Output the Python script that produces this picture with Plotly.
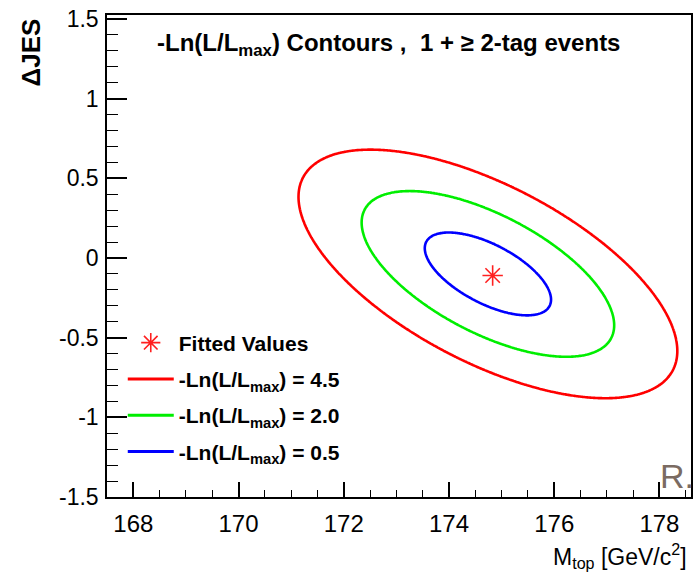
import numpy as np
import plotly.graph_objects as go

# ---- values ----
fit_mtop = [174.83]          # fitted M_top (GeV/c^2)
fit_djes = [-0.11]           # fitted Delta JES
# Gaussian approximation of -Ln(L/Lmax) surface (read from contour extents)
like_center = [174.74, -0.10]
like_sigma = [1.20, 0.26]    # 1-sigma half extents in M_top, JES
like_rho = [-0.62]
levels = [4.5, 2.0, 0.5]
level_colors = ["#ff0000", "#00ee00", "#0000ff"]
level_names = ["-Ln(L/L<sub>max</sub>) = 4.5",
               "-Ln(L/L<sub>max</sub>) = 2.0",
               "-Ln(L/L<sub>max</sub>) = 0.5"]
x_ticks = [168, 170, 172, 174, 176, 178]
y_ticks = [-1.5, -1, -0.5, 0, 0.5, 1, 1.5]
y_tick_text = ["-1.5", "-1", "-0.5", "0", "0.5", "1", "1.5"]

# likelihood grid
gx = np.linspace(167.5, 178.6, 400)
gy = np.linspace(-1.5, 1.525, 400)
X, Y = np.meshgrid(gx, gy)
u = (X - like_center[0]) / like_sigma[0]
v = (Y - like_center[1]) / like_sigma[1]
r = like_rho[0]
Z = 0.5 * (u * u - 2 * r * u * v + v * v) / (1 - r * r)

FONT = "Liberation Sans, Arial, Helvetica, sans-serif"
fig = go.Figure()

for lev, col, name in zip(levels, level_colors, level_names):
    fig.add_trace(go.Contour(
        x=gx, y=gy, z=Z,
        contours=dict(start=lev, end=lev, size=1, coloring="lines"),
        colorscale=[[0, col], [1, col]], showscale=False,
        line=dict(width=2.6, smoothing=1.3),
        showlegend=False, hoverinfo="skip"))

fig.add_trace(go.Scatter(
    x=fit_mtop, y=fit_djes, mode="markers", name="<b>Fitted Values</b>",
    marker=dict(symbol="asterisk", size=17, color="#ff2020",
                line=dict(color="#ff2020", width=1.6)),
    legendgroup="a"))

for i, (col, name) in enumerate(zip(level_colors, level_names)):
    fig.add_trace(go.Scatter(
        x=[None], y=[None], mode="lines", name="<b>" + name + "</b>",
        line=dict(color=col, width=3), legendgroup="g%d" % i))

fig.update_layout(
    width=696, height=574,
    margin=dict(l=107, r=3, t=15, b=77),
    paper_bgcolor="white", plot_bgcolor="white",
    font=dict(family=FONT, color="black"),
    showlegend=True,
    legend=dict(x=0.027, y=0.362, xanchor="left", yanchor="top",
                bgcolor="rgba(0,0,0,0)", font=dict(size=21, family=FONT),
                tracegroupgap=6, itemwidth=46),
    xaxis=dict(range=[167.5, 178.6], tickvals=x_ticks,
               ticks="inside", ticklen=15, tickwidth=1.5, tickcolor="black",
               minor=dict(dtick=0.5, ticks="inside", ticklen=7,
                          tickcolor="black", tickwidth=1.2),
               showgrid=False, zeroline=False, showline=True, mirror=True,
               linecolor="black", linewidth=1.5,
               tickfont=dict(size=24, family=FONT), ticklabelstandoff=4),
    yaxis=dict(range=[-1.5, 1.525], tickvals=y_ticks, ticktext=y_tick_text,
               ticks="inside", ticklen=20, tickwidth=1.5, tickcolor="black",
               minor=dict(dtick=0.1, ticks="inside", ticklen=11,
                          tickcolor="black", tickwidth=1.2),
               showgrid=False, zeroline=False, showline=True, mirror=True,
               linecolor="black", linewidth=1.5,
               tickfont=dict(size=23, family=FONT), ticklabelstandoff=2),
)

fig.add_annotation(xref="paper", yref="paper", x=0.083, y=0.938,
                   xanchor="left", yanchor="middle", showarrow=False,
                   text="<b>-Ln(L/L<sub>max</sub>) Contours ,  1 + \u2265 2-tag events</b>",
                   font=dict(size=24, family=FONT))
fig.add_annotation(xref="paper", yref="paper", x=-0.131, y=0.998,
                   xanchor="center", yanchor="top", textangle=-90, showarrow=False,
                   text="<b>\u0394JES</b>", font=dict(size=26, family=FONT))
fig.add_annotation(xref="paper", yref="paper", x=0.997, y=-0.16,
                   xanchor="right", yanchor="bottom", showarrow=False,
                   text="M<sub>top</sub> [GeV/c<sup>2</sup>]",
                   font=dict(size=23, family=FONT))
fig.add_annotation(xref="paper", yref="paper", x=1.008, y=0.0,
                   xanchor="right", yanchor="bottom", showarrow=False,
                   text="R.", font=dict(size=34, family=FONT, color="#7a6b62"))

fig.write_html("out.html", post_script="document.body.style.margin='0';",
               config={"displayModeBar": False})
